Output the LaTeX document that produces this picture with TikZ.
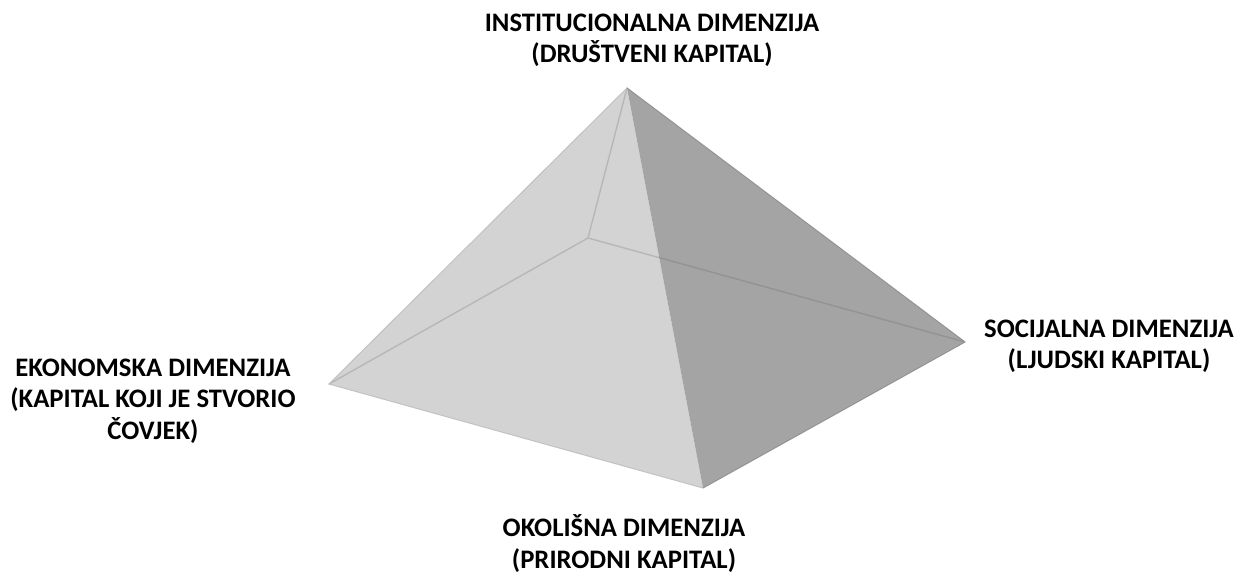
\documentclass[tikz,border=0pt]{standalone}
\usepackage{fontspec}
\setmainfont{Carlito}
\definecolor{lightface}{HTML}{D3D3D3}
\definecolor{darkface}{HTML}{A4A4A4}
\definecolor{lightedge}{HTML}{B7B7B7}
\definecolor{darkedge}{HTML}{939393}
\definecolor{lightrim}{HTML}{C2C2C2}
\begin{document}
\begin{tikzpicture}[x=1bp,y=-1bp,
  lbl/.style={font=\fontsize{26.8}{31.2}\selectfont\bfseries, align=center, inner sep=0pt, anchor=base},
  hiddenline/.style={line width=1.4bp, line cap=round},
  rim/.style={line width=1bp, line join=round}]
\useasboundingbox[fill=white] (0,0) rectangle (1241,575);
\coordinate (A) at (627,88);
\coordinate (L) at (329,384);
\coordinate (R) at (965,342);
\coordinate (B) at (703,488);
\coordinate (K) at (588,238);
% faces
\fill[lightface] (A) -- (L) -- (B) -- cycle;
\fill[darkface] (A) -- (B) -- (R) -- cycle;
% hidden edges
\draw[hiddenline, lightedge] (A) -- (K) -- (L);
\begin{scope}
  \clip (A) -- (L) -- (B) -- cycle;
  \draw[hiddenline, lightedge] (K) -- (R);
\end{scope}
\begin{scope}
  \clip (A) -- (B) -- (R) -- cycle;
  \draw[hiddenline, darkedge] (K) -- (R);
\end{scope}
% rims
\draw[rim, lightrim] (B) -- (L) -- (A);
\draw[rim, darkedge] (A) -- (R) -- (B);
% labels (anchor = baseline of the last line)
\node[lbl] (top) at (652,63) {INSTITUCIONALNA DIMENZIJA\\(DRUŠTVENI KAPITAL)};
\node[lbl] (left) at (153,439) {EKONOMSKA DIMENZIJA\\(KAPITAL KOJI JE STVORIO\\ČOVJEK)};
\node[lbl] (right) at (1109,369) {SOCIJALNA DIMENZIJA\\(LJUDSKI KAPITAL)};
\node[lbl] (bottom) at (624,568) {OKOLIŠNA DIMENZIJA\\(PRIRODNI KAPITAL)};
\end{tikzpicture}
\end{document}
